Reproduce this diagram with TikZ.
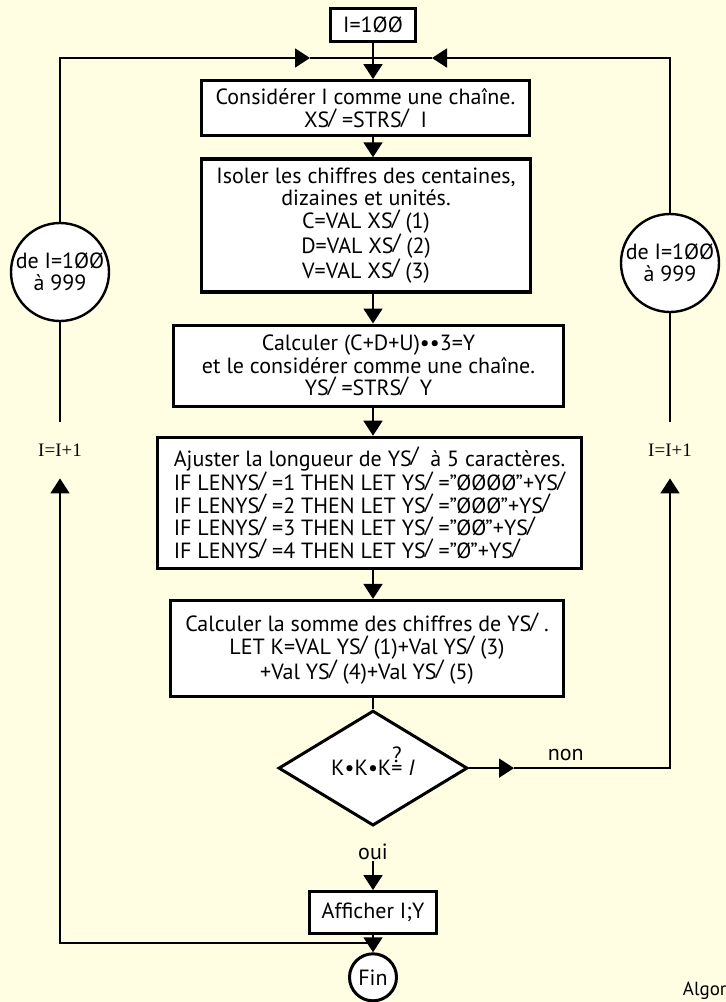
\documentclass[tikz,border=0pt]{standalone}
\usepackage{fontspec}
\setmainfont{PT Sans}
\newfontfamily\incfont{Liberation Serif}
\usetikzlibrary{arrows.meta, positioning, shapes.geometric}
\colorlet{bgpaper}{yellow!11!white}
\newcommand{\sdol}{S\kern-0.04em\raisebox{0.3ex}{/}}
\newcommand{\qeq}{\ooalign{\hfil=\hfil\cr\hfil\raisebox{0.6em}{?}\hfil}}

\begin{document}
\begin{tikzpicture}[x=1pt, y=-1pt, >={Triangle[length=15pt, width=19pt]}, line width=1.8pt,
  every node/.style={font=\fontsize{22}{22.5}\selectfont},
  box/.style={draw, line width=3.2pt, fill=white, align=center, inner sep=0pt},
  loopnode/.style={draw, circle, line width=2.4pt, fill=white, align=center, inner sep=0pt, minimum size=98pt},
  lab/.style={inner sep=0pt}]

  % Page
  \fill[bgpaper] (0,0) rectangle (726,1002);
  \useasboundingbox (0,0) rectangle (726,1002);

  % Nodes
  \node[box, minimum width=85pt, minimum height=33pt] (start) at (373,25) {I=1ØØ};
  \node[box, minimum width=328pt, minimum height=55pt, below=36pt of start, xshift=-7.5pt] (cons)
    {Considérer I comme une chaîne.\\X\sdol{} =STR\sdol{} \ I};
  \node[box, minimum width=329pt, minimum height=133pt, below=20pt of cons, xshift=0.5pt] (iso)
    {Isoler les chiffres des centaines,\\dizaines et unités.\\C=VAL X\sdol{} (1)\\D=VAL X\sdol{} (2)\\V=VAL X\sdol{} (3)};
  \node[box, minimum width=390pt, minimum height=81pt, below=30pt of iso, xshift=2.5pt] (calc)
    {Calculer (C+D+U)••3=Y\\et le considérer comme une chaîne.\\Y\sdol{} =STR\sdol{} \ Y};
  \node[box, minimum width=424pt, minimum height=131pt, below=28pt of calc, xshift=1pt, align=left] (adj)
    {Ajuster la longueur de Y\sdol{} \ à 5 caractères.\\
     IF LENY\sdol{} =1 THEN LET Y\sdol{} =”ØØØØ”+Y\sdol\\
     IF LENY\sdol{} =2 THEN LET Y\sdol{} =”ØØØ”+Y\sdol\\
     IF LENY\sdol{} =3 THEN LET Y\sdol{} =”ØØ”+Y\sdol\\
     IF LENY\sdol{} =4 THEN LET Y\sdol{} =”Ø”+Y\sdol};
  \node[box, minimum width=393pt, minimum height=96pt, below=29pt of adj, xshift=-2.5pt] (sum)
    {Calculer la somme des chiffres de Y\sdol{} .\\LET K=VAL Y\sdol{} (1)+Val Y\sdol{} (3)\\+Val Y\sdol{} (4)+Val Y\sdol{} (5)};
  \node[draw, diamond, fill=white, line width=3pt, minimum width=189pt, minimum height=115pt, inner sep=0pt,
    below=11pt of sum, xshift=6pt] (test) {K•K•K\qeq\ \textit{I}};
  \node[lab, below=16pt of test] (oui) {oui};
  \node[box, minimum width=127pt, minimum height=42pt, below=63pt of test] (show) {Afficher I;Y};
  \node[draw, circle, line width=3pt, fill=white, minimum size=47pt, inner sep=0pt, below=17pt of show] (fin) {Fin};

  \node[loopnode] (loop1) at (60,272) {de I=1ØØ\\à 999};
  \node[loopnode] (loop2) at (670,263) {de I=1ØØ\\à 999};
  \node[lab, minimum height=55pt, font=\incfont\fontsize{19}{20}\selectfont] (inc1) at (60,450) {I=I+1};
  \node[lab, minimum height=55pt, font=\incfont\fontsize{19}{20}\selectfont] (inc2) at (670,450) {I=I+1};
  \node[lab, anchor=base west, font=\fontsize{19}{20}\selectfont] (algo) at (682,995) {Algor};

  \coordinate (tl) at (310,58);
  \coordinate (tr) at (432,58);

  % Edges
  \draw[->] (start) -- (start |- cons.north);
  \draw[->] (start |- cons.south) -- (start |- iso.north);
  \draw[->] (start |- iso.south) -- (start |- calc.north);
  \draw[->] (start |- calc.south) -- (start |- adj.north);
  \draw[->] (start |- adj.south) -- (start |- sum.north);
  \draw (start |- sum.south) -- (test);
  \draw[->] (oui) -- (show);
  \draw[->] (show) -- coordinate[pos=0.45] (lj) (fin);
  \draw[->] (test.east) -- ++(45,0) coordinate (nt);
  \node[lab, above right=6pt and 33pt of nt] (non) {non};
  \draw[->] (nt) -| (inc2.south);
  \draw (inc2.north) -- (loop2);
  \draw[->] (loop2) |- (tr);
  \draw (tr) -- (start |- tr);
  \draw[->] (lj) -| (inc1.south);
  \draw (inc1.north) -- (loop1);
  \draw[->] (loop1) |- (tl);
  \draw (tl) -- (start |- tl);

\end{tikzpicture}
\end{document}
